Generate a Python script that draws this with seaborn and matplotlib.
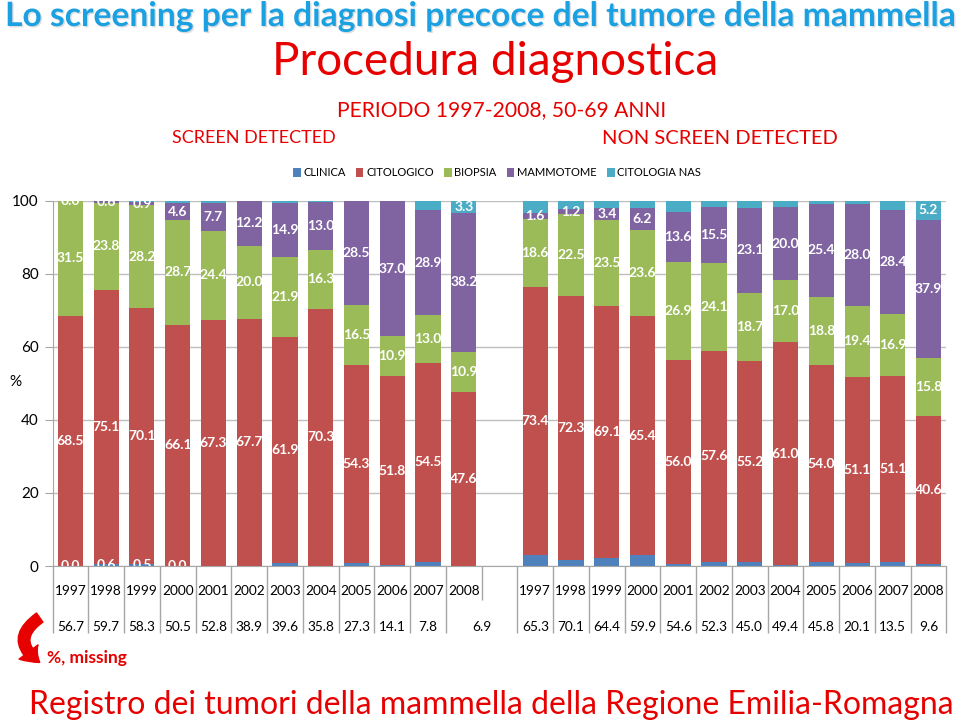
import numpy as np
import pandas as pd
import matplotlib
matplotlib.use("Agg")
import matplotlib.pyplot as plt
import matplotlib.transforms as mtransforms
import matplotlib.patheffects as pe
import seaborn as sns
from matplotlib.patches import Patch, FancyArrowPatch

# --- data (percent of cases per year) ---
years = [1997, 1998, 1999, 2000, 2001, 2002, 2003, 2004, 2005, 2006, 2007, 2008]
series = ["CLINICA", "CITOLOGICO", "BIOPSIA", "MAMMOTOME", "CITOLOGIA NAS"]
colors = ["#4F81BD", "#C0504D", "#9BBB59", "#8064A2", "#4BACC6"]

# screen detected
sd_clinica = [0.0, 0.6, 0.5, 0.0, 0.1, 0.1, 0.8, 0.1, 0.8, 0.2, 1.2, 0.1]
sd_citologico = [68.5, 75.1, 70.1, 66.1, 67.3, 67.7, 61.9, 70.3, 54.3, 51.8, 54.5, 47.6]
sd_biopsia = [31.5, 23.8, 28.2, 28.7, 24.4, 20.0, 21.9, 16.3, 16.5, 10.9, 13.0, 10.9]
sd_mammotome = [0.0, 0.6, 0.9, 4.6, 7.7, 12.2, 14.9, 13.0, 28.5, 37.0, 28.9, 38.2]
sd_nas = [0.0, 0.0, 0.3, 0.6, 0.6, 0.1, 0.5, 0.4, 0.2, 0.3, 2.4, 3.3]
sd_missing = [56.7, 59.7, 58.3, 50.5, 52.8, 38.9, 39.6, 35.8, 27.3, 14.1, 7.8, 6.9]

# non screen detected
nsd_clinica = [3.0, 1.7, 2.2, 3.0, 0.5, 1.2, 1.0, 0.3, 1.0, 0.8, 1.0, 0.5]
nsd_citologico = [73.4, 72.3, 69.1, 65.4, 56.0, 57.6, 55.2, 61.0, 54.0, 51.1, 51.1, 40.6]
nsd_biopsia = [18.6, 22.5, 23.5, 23.6, 26.9, 24.1, 18.7, 17.0, 18.8, 19.4, 16.9, 15.8]
nsd_mammotome = [1.6, 1.2, 3.4, 6.2, 13.6, 15.5, 23.1, 20.0, 25.4, 28.0, 28.4, 37.9]
nsd_nas = [3.4, 2.3, 1.8, 1.8, 3.0, 1.6, 2.0, 1.7, 0.8, 0.7, 2.6, 5.2]
nsd_missing = [65.3, 70.1, 64.4, 59.9, 54.6, 52.3, 45.0, 49.4, 45.8, 20.1, 13.5, 9.6]

# which segments carry a printed value
labelled = {
    "CLINICA": [0, 1, 2, 3],
    "CITOLOGICO": list(range(24)),
    "BIOPSIA": list(range(24)),
    "MAMMOTOME": list(range(24)),
    "CITOLOGIA NAS": [11, 23],
}

left_pos = list(range(12))
right_pos = list(range(13, 25))
positions = left_pos + right_pos

values = {
    "CLINICA": sd_clinica + nsd_clinica,
    "CITOLOGICO": sd_citologico + nsd_citologico,
    "BIOPSIA": sd_biopsia + nsd_biopsia,
    "MAMMOTOME": sd_mammotome + nsd_mammotome,
    "CITOLOGIA NAS": sd_nas + nsd_nas,
}

plt.rcParams["font.family"] = ["Lato", "DejaVu Sans"]

W, H = 960, 727
fig = plt.figure(figsize=(W / 100, H / 100), dpi=100)
ax = fig.add_axes([52.6 / W, (H - 566) / H, (946.4 - 52.6) / W, 365 / H])

bottom = np.zeros(len(positions))
for name, col in zip(series, colors):
    df = pd.DataFrame({"pos": positions, "val": values[name]})
    sns.barplot(data=df, x="pos", y="val", native_scale=True, color=col,
                width=0.7, bottom=bottom, linewidth=0, saturation=1,
                errorbar=None, ax=ax)
    for k in labelled[name]:
        v = values[name][k]
        ax.text(positions[k], bottom[k] + v / 2, f"{v:.1f}", ha="center", va="center",
                color="white", fontsize=10, fontweight="bold", clip_on=True)
    bottom = bottom + np.array(values[name])

ax.set_xlim(-0.5, 24.5)
ax.set_ylim(0, 100)
ax.set_yticks([0, 20, 40, 60, 80, 100])
ax.yaxis.grid(True, color="#BFBFBF", lw=1)
ax.set_axisbelow(True)
ax.set_xticks([])
ax.set_xlabel("")
ax.set_ylabel("")
for s in ["top", "right"]:
    ax.spines[s].set_visible(False)
for s in ["left", "bottom"]:
    ax.spines[s].set_color("#A6A6A6")
ax.tick_params(axis="y", length=6, color="#A6A6A6", labelsize=11, pad=4)

# data table under the bars (x in data units, y in figure pixels)
tr = mtransforms.blended_transform_factory(ax.transData, fig.transFigure)
fy = lambda py: 1 - py / H
edges = [p - 0.5 for p in positions] + [24.5]
ax.vlines(edges, fy(633), fy(566), transform=tr, color="#A6A6A6", lw=1, clip_on=False)
ax.vlines([11.5], fy(600), fy(566), transform=tr, color="#A6A6A6", lw=1, clip_on=False)
for p, y in zip(positions, years + years):
    ax.text(p, fy(591), str(y), transform=tr, ha="center", va="center", fontsize=9.8,
            clip_on=False)
miss_pos = left_pos[:11] + [11.5] + right_pos
for p, m in zip(miss_pos, sd_missing + nsd_missing):
    ax.text(p, fy(627), f"{m:.1f}", transform=tr, ha="center", va="center",
            fontsize=9.8, clip_on=False)

red = "#E60000"
shadow = [pe.withSimplePatchShadow(offset=(1, -1), shadow_rgbFace="#A0A0A0", alpha=0.35)]
fig.text(5 / W, fy(16), "Lo screening per la diagnosi precoce del tumore della mammella",
         color="#1BA1E2", fontsize=24.2, fontweight="bold", ha="left", va="center",
         path_effects=shadow)
fig.text(495 / W, fy(62), "Procedura diagnostica", color=red, fontsize=33,
         ha="center", va="center")
fig.text(502 / W, fy(110), "PERIODO 1997-2008, 50-69 ANNI", color=red, fontsize=15.2,
         ha="center", va="center")
fig.text(254 / W, fy(138), "SCREEN DETECTED", color=red, fontsize=13,
         ha="center", va="center")
fig.text(720 / W, fy(138), "NON SCREEN DETECTED", color=red, fontsize=14.5,
         ha="center", va="center")
fig.text(15 / W, fy(382), "%", fontsize=11, ha="center", va="center")
fig.text(47 / W, fy(658), "%, missing", color=red, fontsize=12.5, fontweight="bold",
         ha="left", va="center")
fig.text(491 / W, fy(705),
         "Registro dei tumori della mammella della Regione Emilia-Romagna",
         color=red, fontsize=23, ha="center", va="center")

arrow = FancyArrowPatch((42 / W, fy(616)), (42 / W, fy(664)),
                        transform=fig.transFigure, connectionstyle="arc3,rad=0.75",
                        arrowstyle="simple,head_width=17,head_length=11,tail_width=8",
                        color=red, mutation_scale=1)
fig.patches.append(arrow)

handles = [Patch(facecolor=c, label=s) for s, c in zip(series, colors)]
fig.legend(handles=handles, loc="center", bbox_to_anchor=(497 / W, fy(173)), ncol=5,
           frameon=False, handlelength=0.7, handleheight=0.8, handletextpad=0.25,
           columnspacing=0.9, fontsize=8)

fig.savefig("out.png", dpi=100)
